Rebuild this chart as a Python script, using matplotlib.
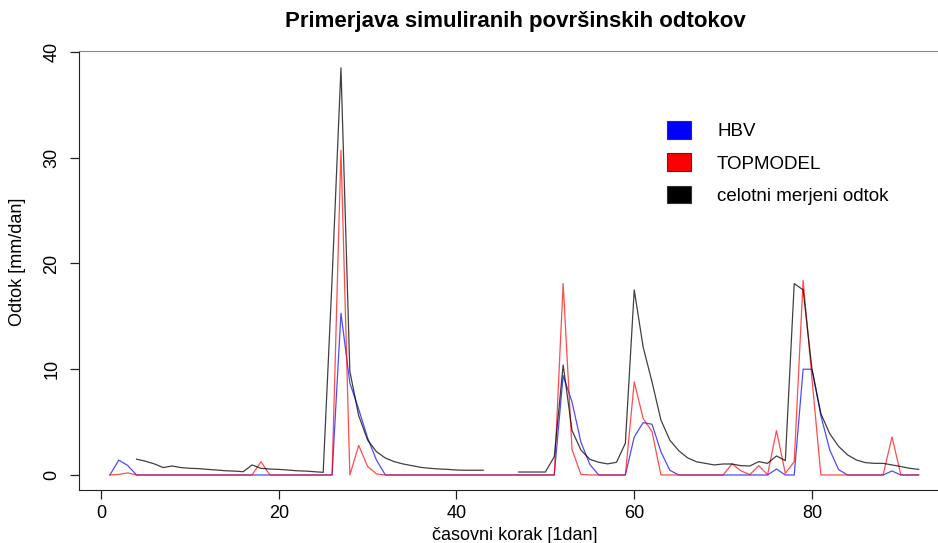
import numpy as np
import matplotlib
matplotlib.use("Agg")
import matplotlib.pyplot as plt
from matplotlib.patches import Patch

plt.rcParams["font.family"] = ["Liberation Sans", "DejaVu Sans"]

# časovni korak (dnevi)
days = np.arange(1, 93)

hbv = [
    0, 1.4, 0.9, 0, 0, 0, 0, 0, 0, 0,
    0, 0, 0, 0, 0, 0, 0, 0, 0, 0,
    0, 0, 0, 0, 0, 0, 15.3, 8.7, 6.2, 3.5,
    1.4, 0, 0, 0, 0, 0, 0, 0, 0, 0,
    0, 0, 0, 0, 0, 0, 0, 0, 0, 0,
    0, 9.4, 6.9, 3.1, 1.0, 0, 0, 0, 0, 3.6,
    4.95, 4.8, 2.2, 0.45, 0, 0, 0, 0, 0, 0,
    0, 0, 0, 0, 0, 0.56, 0, 0, 10.0, 10.0,
    5.6, 2.36, 0.5, 0, 0, 0, 0, 0, 0.38, 0,
    0, 0,
]

topmodel = [
    0, 0.05, 0.2, 0, 0, 0, 0, 0, 0, 0,
    0, 0, 0, 0, 0, 0, 0, 1.26, 0, 0,
    0, 0, 0, 0, 0, 0, 30.7, 0, 2.8, 0.8,
    0.1, 0, 0, 0, 0, 0, 0, 0, 0, 0,
    0, 0, 0, 0, 0, 0, 0, 0, 0, 0,
    0, 18.1, 2.4, 0.05, 0, 0, 0, 0, 0, 8.8,
    5.35, 4.1, 0, 0, 0, 0, 0, 0, 0, 0,
    1.05, 0.4, 0.03, 0.88, 0.03, 4.2, 0.15, 1.26, 18.4, 9.1,
    0, 0, 0, 0, 0, 0, 0, 0, 3.6, 0,
    0, 0,
]

nan = np.nan
measured = [
    nan, nan, nan, 1.5, 1.3, 1.05, 0.7, 0.85, 0.7, 0.63,
    0.6, 0.53, 0.47, 0.4, 0.37, 0.31, 0.95, 0.63, 0.56, 0.53,
    0.47, 0.4, 0.37, 0.31, 0.25, 18.5, 38.5, 9.8, 5.6, 3.3,
    2.2, 1.6, 1.26, 1.04, 0.88, 0.72, 0.63, 0.57, 0.53, 0.47,
    0.45, 0.45, 0.45, nan, nan, nan, 0.28, 0.28, 0.28, 0.28,
    1.73, 10.4, 4.2, 2.36, 1.48, 1.2, 1.05, 1.2, 3.0, 17.5,
    12.1, 8.8, 5.2, 3.3, 2.3, 1.62, 1.25, 1.1, 0.95, 1.04,
    1.04, 0.88, 0.85, 1.26, 1.1, 1.8, 1.36, 18.1, 17.5, 10.0,
    5.8, 3.9, 2.7, 1.9, 1.42, 1.17, 1.1, 1.1, 0.95, 0.8,
    0.63, 0.53,
]

labels = ["HBV", "TOPMODEL", "celotni merjeni odtok"]
colors = ["#0000ff", "#ff0000", "#000000"]

W, H = 938, 543
fig = plt.figure(figsize=(W / 100, H / 100), dpi=100)
ax = fig.add_axes([79 / W, 1 - 490 / H, (951 - 79) / W, (490 - 51) / H])

ax.plot(days, hbv, color=colors[0], lw=0.9, alpha=0.7)
ax.plot(days, topmodel, color=colors[1], lw=0.9, alpha=0.7)
ax.plot(days, measured, color=colors[2], lw=0.9, alpha=0.75)

ax.set_xlim(-2.475, 95.64)
ax.set_ylim(-1.42, 40.09)
ax.set_xticks([0, 20, 40, 60, 80])
ax.set_yticks([0, 10, 20, 30, 40])
ax.tick_params(axis="both", labelsize=13, length=6.5, width=0.9, color="#222222")
ax.tick_params(axis="x", pad=4)
ax.tick_params(axis="y", labelrotation=90, pad=7)
for lab in ax.get_yticklabels():
    lab.set_va("center")

ax.spines["right"].set_visible(False)
ax.spines["top"].set_color("#888888")
ax.spines["left"].set_color("#222222")
ax.spines["bottom"].set_color("#222222")

fig.text(515 / W, 1 - 21 / H, "Primerjava simuliranih površinskih odtokov",
         ha="center", va="center", fontsize=16, fontweight="bold")
fig.text(515 / W, 1 - 535 / H, "časovni korak [1dan]",
         ha="center", va="center", fontsize=13)
fig.text(18 / W, 1 - 262 / H, "Odtok [mm/dan]",
         ha="center", va="center", rotation=90, fontsize=13)

handles = [Patch(facecolor=c, edgecolor="#333333", lw=0.8) for c in colors]
ax.legend(handles, labels, loc="upper left", frameon=False,
          bbox_to_anchor=(667 / W, 1 - 121 / H), bbox_transform=fig.transFigure,
          fontsize=13.5, handlelength=1.28, handleheight=1.07,
          handletextpad=1.39, labelspacing=0.7, borderpad=0, borderaxespad=0)

fig.savefig("out.png", dpi=100)
